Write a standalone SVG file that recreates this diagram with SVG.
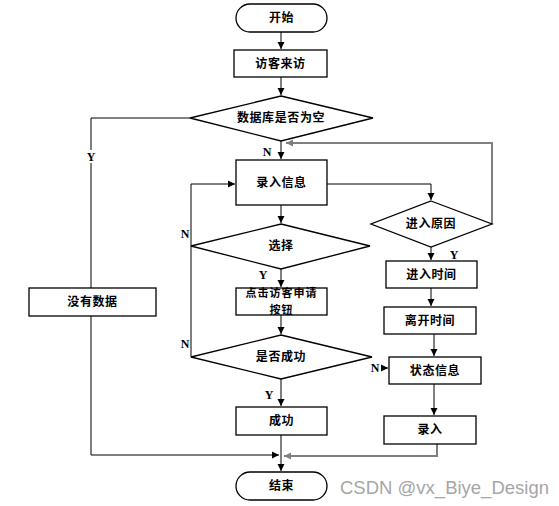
<svg xmlns="http://www.w3.org/2000/svg" width="559" height="506" viewBox="0 0 559 506">
<defs>
<marker id="ah" markerWidth="8" markerHeight="8" refX="7" refY="4" orient="auto" markerUnits="userSpaceOnUse"><path d="M0,0.5 L7,4 L0,7.5 Z" fill="#000"/></marker>
<marker id="ahg" markerWidth="8" markerHeight="8" refX="7" refY="4" orient="auto" markerUnits="userSpaceOnUse"><path d="M0,0.5 L7,4 L0,7.5 Z" fill="#7f7f7f"/></marker>
</defs>
<style>
.box{fill:#fff;stroke:#000;stroke-width:1.3}
.t{font-family:"Noto Sans CJK SC","Noto Sans CJK JP",sans-serif;font-size:12px;font-weight:bold;fill:#000;text-anchor:middle;letter-spacing:0.6px}
.s{font-size:11px;letter-spacing:1px}
.lbl{font-family:"Liberation Serif",serif;font-size:12px;font-weight:bold;fill:#000;text-anchor:middle}
.c{fill:none;stroke:#000;stroke-width:1}
.g{fill:none;stroke:#7f7f7f;stroke-width:2}
</style>
<rect width="559" height="506" fill="#fff"/>
<g id="connectors">
<path class="c" d="M281,32 V49" marker-end="url(#ah)"/>
<path class="c" d="M281,77 V95" marker-end="url(#ah)"/>
<path class="c" d="M281,141 V159" marker-end="url(#ah)"/>
<path class="c" d="M190,118 H91 V455 H279" marker-end="url(#ah)"/>
<path class="c" d="M327,184 H431 V200" marker-end="url(#ah)"/>
<path class="c" d="M281,205 V223" marker-end="url(#ah)"/>
<path class="c" d="M281,269 V287" marker-end="url(#ah)"/>
<path class="c" d="M281,315 V334" marker-end="url(#ah)"/>
<path class="c" d="M281,379 V406" marker-end="url(#ah)"/>
<path class="c" d="M281,435 V471" marker-end="url(#ah)"/>
<path class="c" d="M191,357 V184 H235" marker-end="url(#ah)"/>
<path class="c" d="M431,247 V260" marker-end="url(#ah)"/>
<path class="c" d="M431,288 V306" marker-end="url(#ah)"/>
<path class="c" d="M434,334 V356" marker-end="url(#ah)"/>
<path class="c" d="M434,384 V415" marker-end="url(#ah)"/>
<path class="c" d="M381,368 H388" marker-end="url(#ah)"/>
<path class="g" d="M492,224 V143 H286" marker-end="url(#ahg)"/>
<path class="g" d="M437,444 V456 H284" marker-end="url(#ahg)"/>
<rect x="84" y="150" width="14" height="13" fill="#fff"/>
<text class="lbl" x="91" y="161">Y</text>
<text class="lbl" x="267" y="156">N</text>
<text class="lbl" x="185" y="238">N</text>
<text class="lbl" x="263" y="279">Y</text>
<text class="lbl" x="185" y="348">N</text>
<text class="lbl" x="269" y="399">Y</text>
<text class="lbl" x="454" y="259">Y</text>
<text class="lbl" x="375" y="372">N</text>
</g>
<g id="start"><rect class="box" x="236" y="4" width="91" height="28" rx="14"/><text class="t" x="281.5" y="22">开始</text></g>
<g id="visit"><rect class="box" x="234" y="50" width="93" height="27"/><text class="t" x="280.5" y="68">访客来访</text></g>
<g id="dbEmpty"><polygon class="box" points="281,96 373,118 281,141 190,118"/><text class="t" x="281" y="122">数据库是否为空</text></g>
<g id="noData"><rect class="box" x="29" y="288" width="127" height="28"/><text class="t" x="92.5" y="306">没有数据</text></g>
<g id="input"><rect class="box" x="236" y="160" width="91" height="45"/><text class="t" x="281.5" y="187">录入信息</text></g>
<g id="choose"><polygon class="box" points="281,224 370,246 281,269 191,246"/><text class="t" x="281" y="250">选择</text></g>
<g id="clickBtn"><rect class="box" x="236" y="288" width="91" height="27"/><text class="t s" x="281.5" y="297">点击访客申请</text><text class="t s" x="281.5" y="313.5">按钮</text></g>
<g id="success"><polygon class="box" points="281,335 372,357 281,379 191,357"/><text class="t" x="281" y="361">是否成功</text></g>
<g id="ok"><rect class="box" x="236" y="407" width="91" height="28"/><text class="t" x="281.5" y="425">成功</text></g>
<g id="end"><rect class="box" x="236" y="472" width="91" height="28" rx="14"/><text class="t" x="281.5" y="490">结束</text></g>
<g id="reason"><polygon class="box" points="431,201 492,224 431,247 371,224"/><text class="t" x="431" y="228">进入原因</text></g>
<g id="enterTime"><rect class="box" x="386" y="261" width="91" height="27"/><text class="t" x="431.5" y="279">进入时间</text></g>
<g id="leaveTime"><rect class="box" x="384" y="307" width="92" height="27"/><text class="t" x="430" y="325">离开时间</text></g>
<g id="status"><rect class="box" x="389" y="357" width="92" height="27"/><text class="t" x="435" y="375">状态信息</text></g>
<g id="record"><rect class="box" x="384" y="416" width="92" height="28"/><text class="t" x="430" y="434">录入</text></g>
<text x="340" y="494" font-family="Liberation Sans, Arial, sans-serif" font-size="18.5" fill="#a6a6a6">CSDN @vx_Biye_Design</text>
</svg>
